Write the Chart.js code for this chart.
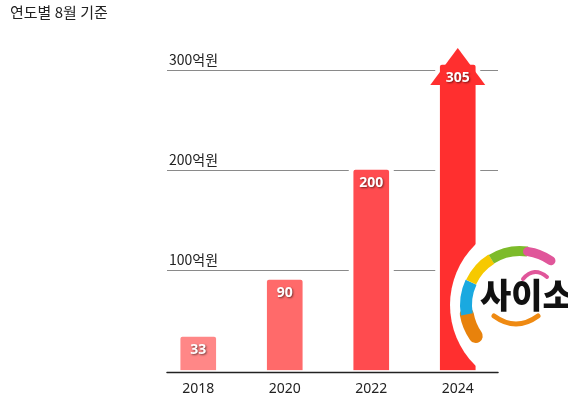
<!DOCTYPE html>
<html><head><meta charset="utf-8">
<script src="https://cdn.jsdelivr.net/npm/chart.js@4/dist/chart.umd.min.js"></script>
<style>html,body{margin:0;padding:0;background:#fff;}#wrap{position:relative;width:568px;height:399px;}</style>
</head><body>
<div id="wrap"><canvas id="c" width="568" height="399"></canvas></div>
<script>
const title = '연도별 8월 기준';
const years = ['2018', '2020', '2022', '2024'];
const values = [33, 90, 200, 305];
const barColors = ['#ff8787', '#ff6a6a', '#ff4b4f', '#ff2f2f'];
const gridValues = [100, 200, 300];
const gridLabels = ['100억원', '200억원', '300억원'];
const logoText = '사이소';

const KR = "'Noto Sans CJK KR', sans-serif";
const NUM = "'Noto Sans', 'Noto Sans CJK KR', sans-serif";
Chart.defaults.font.family = NUM;

const decor = {
  id: 'decor',
  beforeDatasetsDraw(chart) {
    const ctx = chart.ctx, ca = chart.chartArea, y = chart.scales.y;
    ctx.save();
    ctx.strokeStyle = '#8a8a8a'; ctx.lineWidth = 1;
    ctx.fillStyle = '#222'; ctx.font = '14px ' + KR; ctx.textBaseline = 'alphabetic'; ctx.textAlign = 'left';
    gridValues.forEach((v, i) => {
      const py = Math.round(y.getPixelForValue(v)) + 0.5;
      ctx.beginPath(); ctx.moveTo(ca.left + 12, py); ctx.lineTo(ca.right - 3, py); ctx.stroke();
      ctx.fillText(gridLabels[i], ca.left + 14, py - 6);
    });
    const meta = chart.getDatasetMeta(0);
    ctx.fillStyle = '#fff';
    meta.data.forEach((b, i) => {
      const w = b.width;
      ctx.fillRect(b.x - w / 2 - 5, b.y - 5, w + 10, b.base - b.y + 5);
      if (i === meta.data.length - 1) {
        ctx.beginPath();
        ctx.moveTo(b.x, b.y - 17 - 7);
        ctx.lineTo(b.x + 27.5 + 7, b.y + 20 + 3);
        ctx.lineTo(b.x - 27.5 - 7, b.y + 20 + 3);
        ctx.closePath(); ctx.fill();
      }
    });
    ctx.restore();
  },
  afterDatasetsDraw(chart) {
    const ctx = chart.ctx;
    const meta = chart.getDatasetMeta(0);
    ctx.save();
    const last = meta.data[meta.data.length - 1];
    ctx.fillStyle = barColors[barColors.length - 1];
    ctx.beginPath();
    ctx.moveTo(last.x, last.y - 17);
    ctx.lineTo(last.x + 27.5, last.y + 20);
    ctx.lineTo(last.x - 27.5, last.y + 20);
    ctx.closePath(); ctx.fill();
    ctx.font = 'bold 14px ' + NUM; ctx.textAlign = 'center'; ctx.textBaseline = 'middle';
    ctx.fillStyle = '#fff';
    ctx.shadowColor = 'rgba(0,0,0,0.55)'; ctx.shadowOffsetX = 1; ctx.shadowOffsetY = 1; ctx.shadowBlur = 2;
    meta.data.forEach((b, i) => {
      ctx.fillText(String(values[i]), b.x, b.y + 13);
    });
    ctx.restore();
  },
  afterDraw(chart) {
    const ctx = chart.ctx, ca = chart.chartArea;
    ctx.save();
    ctx.fillStyle = '#222'; ctx.font = '15px ' + KR; ctx.textAlign = 'left'; ctx.textBaseline = 'alphabetic';
    ctx.fillText(title, 10, 18);
    // logo
    ctx.fillStyle = '#fff';
    ctx.beginPath(); ctx.arc(535, 305, 85, 0, Math.PI * 2); ctx.fill();
    const cx = 520, cy = 305, r = 54;
    const segs = [
      ['#e8820c', 145, 170, 14],
      ['#1aa9e0', 170, 205, 12],
      ['#f6c900', 205, 238, 11],
      ['#7dbb2a', 238, 278, 10],
      ['#e0569a', 278, 305, 9]
    ];
    segs.forEach(([c, a0, a1, lw], i) => {
      ctx.strokeStyle = c; ctx.lineWidth = lw;
      ctx.lineCap = (i === 0 || i === segs.length - 1) ? 'round' : 'butt';
      ctx.beginPath(); ctx.arc(cx, cy, r, a0 * Math.PI / 180, a1 * Math.PI / 180); ctx.stroke();
    });
    ctx.strokeStyle = '#e0569a'; ctx.lineWidth = 4; ctx.lineCap = 'round';
    ctx.beginPath(); ctx.moveTo(523, 279); ctx.quadraticCurveTo(534, 266, 547, 277); ctx.stroke();
    ctx.strokeStyle = '#ef8a12'; ctx.lineWidth = 5;
    ctx.beginPath(); ctx.moveTo(494, 316); ctx.quadraticCurveTo(516, 332, 538, 316); ctx.stroke();
    ctx.fillStyle = '#111'; ctx.font = '900 34px ' + KR; ctx.textBaseline = 'middle';
    ctx.fillText(logoText, 480, 295);
    // axis line
    ctx.strokeStyle = '#222'; ctx.lineWidth = 1.5;
    ctx.beginPath(); ctx.moveTo(ca.left + 12, 372.5); ctx.lineTo(ca.right - 3, 372.5); ctx.stroke();
    ctx.restore();
  }
};

new Chart(document.getElementById('c'), {
  type: 'bar',
  data: {
    labels: years,
    datasets: [{
      data: values,
      backgroundColor: barColors,
      barThickness: 35,
      borderRadius: 2,
      borderSkipped: 'bottom'
    }]
  },
  options: {
    responsive: false,
    animation: false,
    devicePixelRatio: 1,
    layout: { padding: { top: 40, left: 155, right: 67, bottom: -8 } },
    plugins: { legend: { display: false }, tooltip: { enabled: false }, title: { display: false } },
    scales: {
      x: {
        grid: { display: false, drawTicks: false },
        border: { display: false },
        ticks: { color: '#222', font: { size: 14, family: NUM }, padding: 10 }
      },
      y: { display: false, min: 0, max: 330 }
    }
  },
  plugins: [decor]
});
</script>
</body></html>
